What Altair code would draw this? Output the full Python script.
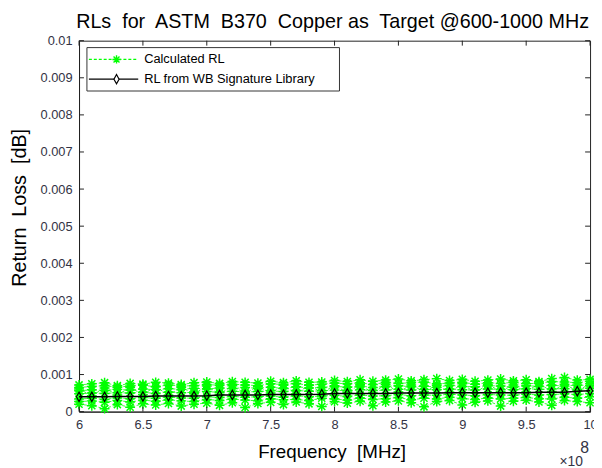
import altair as alt
import pandas as pd

# Frequency in units of 1e8 Hz
freq = [6.0, 6.1, 6.2, 6.3, 6.4, 6.5, 6.6, 6.7, 6.8, 6.9, 7.0,
        7.1, 7.2, 7.3, 7.4, 7.5, 7.6, 7.7, 7.8, 7.9, 8.0,
        8.1, 8.2, 8.3, 8.4, 8.5, 8.6, 8.7, 8.8, 8.9, 9.0,
        9.1, 9.2, 9.3, 9.4, 9.5, 9.6, 9.7, 9.8, 9.9, 10.0]

# Calculated RL runs (values in units of 1e-4 dB)
calc_a = [7.2,7.5,7.8,7.0,7.6,7.4,7.9,7.7,7.3,7.8,8.0,7.6,8.1,7.9,7.7,8.2,7.8,8.3,7.9,8.0,8.4,
          8.1,8.6,8.2,8.5,8.8,8.3,8.6,8.9,8.4,8.7,8.2,8.5,8.8,8.3,8.6,8.1,8.9,9.2,8.5,8.7]
calc_b = [6.5,6.8,7.0,6.6,6.9,7.1,6.7,7.2,6.9,7.0,7.3,7.1,7.4,7.2,7.0,7.5,7.3,7.6,7.1,7.4,7.7,
          7.5,7.8,7.3,7.9,7.6,7.8,8.0,7.5,7.7,7.9,7.4,7.8,7.6,7.9,7.5,7.7,8.1,8.0,7.8,8.2]
calc_c = [5.6,5.9,5.7,6.0,5.8,6.1,5.9,6.2,6.0,6.3,6.1,6.4,6.2,6.5,6.3,6.6,6.2,6.7,6.4,6.5,6.8,
          6.6,6.9,6.5,6.8,7.0,6.7,6.9,6.6,7.1,6.8,6.7,7.0,6.9,6.6,7.0,6.8,7.1,6.9,7.2,7.0]
calc_d = [4.8,5.0,4.9,5.1,5.0,5.2,4.9,5.3,5.1,5.2,5.4,5.2,5.5,5.3,5.4,5.6,5.4,5.7,5.5,5.6,5.8,
          5.6,5.9,5.7,5.8,6.0,5.8,6.0,5.9,6.1,5.9,5.8,6.1,6.0,5.9,6.2,6.0,6.1,6.2,6.0,6.3]
calc_e = [3.4,3.6,3.3,3.7,3.5,3.8,3.6,3.9,3.7,3.6,4.0,3.8,4.1,3.9,4.0,4.2,3.9,4.3,4.0,4.2,4.4,
          4.1,4.5,4.2,4.3,4.6,4.3,4.5,4.4,4.7,4.5,4.3,4.6,4.5,4.4,4.7,4.5,4.6,4.8,4.6,4.9]
calc_f = [2.7,2.9,2.5,3.0,2.6,3.1,2.8,3.2,2.9,2.7,3.3,3.0,3.4,3.1,2.9,3.5,3.2,3.3,3.0,3.6,3.4,
          3.1,3.7,3.3,3.5,3.8,3.2,3.6,3.4,3.9,3.5,3.3,3.7,3.4,3.6,3.8,3.5,3.4,3.9,3.6,4.0]
calc_g = [2.0,1.6,0.8,1.9,1.2,2.1,1.8,2.2,1.5,2.0,2.3,1.7,2.4,1.1,2.2,2.5,1.9,2.6,2.1,1.4,2.7,
          2.3,2.8,1.6,2.6,2.9,2.4,1.3,2.7,3.0,1.8,2.5,2.9,1.5,2.8,3.1,2.6,1.7,3.0,2.7,2.4]
calc_h = [6.1,4.3,6.4,4.5,6.5,4.6,6.8,4.4,6.6,4.8,6.9,4.7,7.0,4.9,6.8,5.0,7.1,4.8,7.2,5.1,7.0,
          5.2,7.3,5.0,7.4,5.3,7.2,5.4,7.1,5.2,7.5,5.1,7.3,5.5,7.2,5.3,7.6,5.4,7.4,5.6,7.5]

# RL from WB Signature Library (units of 1e-4 dB)
library_rl = [4.0,4.0,4.0,4.1,4.1,4.1,4.2,4.2,4.2,4.2,4.3,
              4.5,4.5,4.5,4.5,4.6,4.6,4.6,4.6,4.7,4.9,
              4.9,4.9,4.9,4.9,5.0,5.0,5.0,5.0,5.1,5.1,
              5.1,5.1,5.1,5.1,5.1,5.2,5.2,5.2,5.5,5.6]

x_ticks = [6, 6.5, 7, 7.5, 8, 8.5, 9, 9.5, 10]
y_ticks = [0, 0.001, 0.002, 0.003, 0.004, 0.005, 0.006, 0.007, 0.008, 0.009, 0.01]

title_text = "RLs\u00a0 for\u00a0 ASTM\u00a0 B370\u00a0 Copper as\u00a0 Target @600-1000 MHz"

W, H = 518, 376
GREEN = "#00ff00"
FONT = "Liberation Sans"
ASTER = "M-1,0L1,0M0,-1L0,1M-0.72,-0.72L0.72,0.72M-0.72,0.72L0.72,-0.72"
DIAMOND = "M0,-1L0.55,0L0,1L-0.55,0Z"

runs = [calc_a, calc_b, calc_c, calc_d, calc_e, calc_f, calc_g, calc_h]
rows = []
for i, run in enumerate(runs):
    for f, v in zip(freq, run):
        rows.append({"run": f"r{i}", "freq": f, "rl": v * 1e-4})
green_df = pd.DataFrame(rows)
lib_df = pd.DataFrame({"freq": freq, "rl": [v * 1e-4 for v in library_rl]})
xt_df = pd.DataFrame({"freq": x_ticks})
yt_df = pd.DataFrame({"rl": y_ticks})
one = pd.DataFrame({"a": [0]})

xscale = alt.Scale(domain=[6, 10], nice=False, zero=False)
yscale = alt.Scale(domain=[0, 0.01], nice=False)

LABEL_COLOR = "#333344"
xaxis = alt.Axis(values=x_ticks, format="~g", ticks=False, grid=False,
                 title="Frequency\u00a0 [MHz]", titleX=256, titleY=46,
                 titleBaseline="alphabetic", labelPadding=7,
                 labelFont=FONT, labelFontSize=13, labelColor=LABEL_COLOR, labelFlush=False,
                 titleFont=FONT, titleFontSize=19, titleFontWeight="normal", titleColor="black",
                 domainColor="#222")
yaxis = alt.Axis(values=y_ticks, format="~g", ticks=False, grid=False,
                 title="Return\u00a0 Loss\u00a0 [dB]", titleX=-60, titleY=169,
                 titleAngle=-90, titleBaseline="middle", titleAlign="center", labelPadding=7,
                 labelFont=FONT, labelFontSize=13, labelColor=LABEL_COLOR, labelFlush=False,
                 titleFont=FONT, titleFontSize=20, titleFontWeight="normal", titleColor="black",
                 domainColor="#222")

X = alt.X("freq:Q", scale=xscale, axis=xaxis)
Y = alt.Y("rl:Q", scale=yscale, axis=yaxis)

green_lines = alt.Chart(green_df).mark_line(
    color=GREEN, strokeDash=[3, 2], strokeWidth=0.8
).encode(x=X, y=Y, detail="run:N", order="freq:Q")

green_pts = alt.Chart(green_df).mark_point(
    shape=ASTER, filled=False, stroke=GREEN, strokeWidth=1.5, size=100, opacity=1
).encode(x=X, y=Y)

lib_line = alt.Chart(lib_df).mark_line(color="black", strokeWidth=1.5).encode(x=X, y=Y)
lib_pts = alt.Chart(lib_df).mark_point(
    shape=DIAMOND, filled=False, stroke="black", strokeWidth=1.2, size=90, opacity=1
).encode(x=X, y=Y)

tick_bottom = alt.Chart(xt_df).mark_rule(color="#222").encode(
    x=X, y=alt.value(H), y2=alt.value(H - 5))
tick_top = alt.Chart(xt_df).mark_rule(color="#222").encode(
    x=X, y=alt.value(0), y2=alt.value(5))
tick_left = alt.Chart(yt_df).mark_rule(color="#222").encode(
    y=Y, x=alt.value(0), x2=alt.value(5))
tick_right = alt.Chart(yt_df).mark_rule(color="#222").encode(
    y=Y, x=alt.value(W), x2=alt.value(W - 5))

# Title
title_mark = alt.Chart(one).mark_text(align="center", baseline="alphabetic", fontSize=20,
                                      font=FONT, color="black").encode(
    x=alt.value(W / 2 - 2), y=alt.value(-13), text=alt.value(title_text))

# Legend box
leg_box = alt.Chart(one).mark_rect(fill="white", stroke="#333", strokeWidth=1).encode(
    x=alt.value(8), x2=alt.value(264), y=alt.value(7), y2=alt.value(51))
leg_l1 = alt.Chart(one).mark_rule(color=GREEN, strokeDash=[3, 2], strokeWidth=1.2).encode(
    x=alt.value(10), x2=alt.value(60), y=alt.value(19))
leg_p1 = alt.Chart(one).mark_point(shape=ASTER, filled=False, stroke=GREEN, strokeWidth=1.4,
                                   size=70, opacity=1).encode(x=alt.value(38), y=alt.value(19))
leg_t1 = alt.Chart(one).mark_text(align="left", baseline="middle", fontSize=13, font=FONT,
                                  color="black").encode(
    x=alt.value(66), y=alt.value(19), text=alt.value("Calculated RL"))
leg_l2 = alt.Chart(one).mark_rule(color="black", strokeWidth=1.2).encode(
    x=alt.value(10), x2=alt.value(60), y=alt.value(39))
leg_p2 = alt.Chart(one).mark_point(shape=DIAMOND, filled=True, stroke="black", fill="white",
                                   strokeWidth=1.2, size=90, opacity=1).encode(
    x=alt.value(38), y=alt.value(39))
leg_t2 = alt.Chart(one).mark_text(align="left", baseline="middle", fontSize=13, font=FONT,
                                  color="black").encode(
    x=alt.value(66), y=alt.value(39), text=alt.value("RL from WB Signature Library"))

# x10^8 exponent
exp_t = alt.Chart(one).mark_text(align="left", baseline="alphabetic", fontSize=14, font=FONT,
                                 color=LABEL_COLOR).encode(
    x=alt.value(487), y=alt.value(431), text=alt.value("\u00d710"))
exp_8 = alt.Chart(one).mark_text(align="left", baseline="alphabetic", fontSize=16, font=FONT,
                                 color=LABEL_COLOR).encode(
    x=alt.value(508), y=alt.value(418), text=alt.value("8"))

chart = alt.layer(
    green_lines, green_pts, lib_line, lib_pts,
    tick_bottom, tick_top, tick_left, tick_right,
    leg_box, leg_l1, leg_p1, leg_t1, leg_l2, leg_p2, leg_t2,
    title_mark, exp_t, exp_8,
).properties(
    width=W, height=H,
    background="white",
    autosize=alt.AutoSizeParams(type="none"),
    padding={"left": 72, "top": 30, "right": 4, "bottom": 54},
).configure_view(
    stroke="#222", strokeWidth=1
)

chart.save("out.html", embed_options={"renderer": "svg", "actions": False})
